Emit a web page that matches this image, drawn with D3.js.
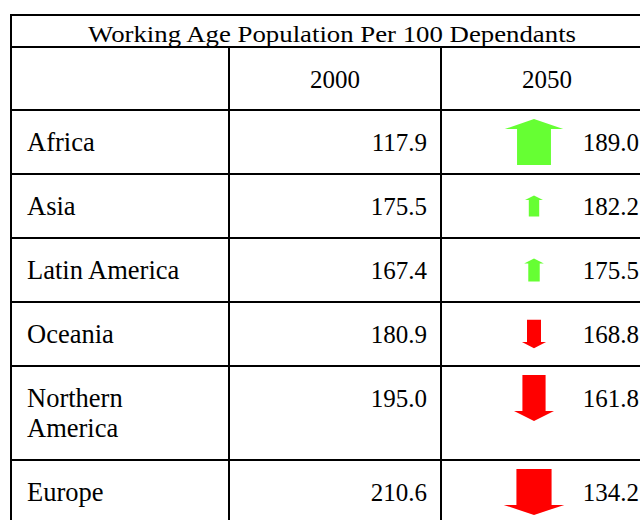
<!DOCTYPE html>
<html>
<head>
<meta charset="utf-8">
<script src="https://cdn.jsdelivr.net/npm/d3@7"></script>
<style>
  body { margin: 0; background: #fff; }
  text { font-family: "Liberation Serif", "Times New Roman", serif; fill: #000; }
</style>
</head>
<body>
<script>
//table data
const title = "Working Age Population Per 100 Dependants";
const years = ["2000", "2050"];
const regions = ["Africa", "Asia", "Latin America", "Oceania", "Northern America", "Europe"];
const values2000 = [117.9, 175.5, 167.4, 180.9, 195.0, 210.6];
const values2050 = [189.0, 182.2, 175.5, 168.8, 161.8, 134.2];

//execute script when window is loaded
window.onload = function () {
    const w = 640, h = 520;

    //layout of the table
    const left = 11, top = 15;
    const colWidths = [218, 212, 212];
    const titleH = 32, headH = 63, rowH = 64, lineH = 30;
    const fontSize = 25, labelSize = 26.5;

    const colX = [left];
    colWidths.forEach(cw => colX.push(colX[colX.length - 1] + cw));
    const right = colX[colX.length - 1];

    var svg = d3.select("body")
        .append("svg")
        .attr("width", w)
        .attr("height", h);

    var lines = svg.append("g").attr("class", "grid");
    var cells = svg.append("g").attr("class", "cells");

    //wrap region names longer than the cell allows
    const measure = svg.append("text").style("font-size", labelSize + "px");
    const wrap = label => {
        measure.text(label);
        if (measure.node().getComputedTextLength() <= 175) return [label];
        const words = label.split(" ");
        return [words.slice(0, -1).join(" "), words[words.length - 1]];
    };
    const rows = regions.map((r, i) => ({
        region: r,
        lines: wrap(r),
        v0: values2000[i],
        v1: values2050[i]
    }));
    measure.remove();

    //row tops
    let y0 = top + titleH + headH;
    rows.forEach(d => {
        d.top = y0;
        d.height = rowH + lineH * (d.lines.length - 1);
        y0 += d.height;
    });
    const bottom = y0;

    //horizontal rules
    const hy = [top, top + titleH, top + titleH + headH].concat(rows.map(d => d.top + d.height));
    lines.selectAll(".hline")
        .data(hy)
        .enter()
        .append("line")
        .attr("class", "hline")
        .attr("x1", left - 1).attr("x2", right + 1)
        .attr("y1", d => d).attr("y2", d => d)
        .style("stroke", "#000").style("stroke-width", 2);

    //vertical rules: outer ones full height, inner ones below the title
    lines.selectAll(".vline")
        .data(colX)
        .enter()
        .append("line")
        .attr("class", "vline")
        .attr("x1", d => d).attr("x2", d => d)
        .attr("y1", (d, i) => (i === 0 || i === colX.length - 1) ? top : top + titleH)
        .attr("y2", bottom)
        .style("stroke", "#000").style("stroke-width", 2);

    //title
    cells.append("text")
        .attr("class", "title")
        .attr("text-anchor", "middle")
        .attr("x", (left + right) / 2)
        .attr("y", top + 27)
        .attr("textLength", 488)
        .attr("lengthAdjust", "spacingAndGlyphs")
        .style("font-size", "24px")
        .text(title);

    //year headers
    cells.selectAll(".year")
        .data(years)
        .enter()
        .append("text")
        .attr("class", "year")
        .attr("text-anchor", "middle")
        .attr("x", (d, i) => (colX[i + 1] + colX[i + 2]) / 2)
        .attr("y", top + titleH + 41)
        .style("font-size", fontSize + "px")
        .text(d => d);

    const format = d3.format(".1f");

    //region labels
    var labels = cells.selectAll(".region")
        .data(rows)
        .enter()
        .append("text")
        .attr("class", "region")
        .attr("y", d => d.top + 41)
        .style("font-size", labelSize + "px");

    labels.selectAll("tspan")
        .data(d => d.lines)
        .enter()
        .append("tspan")
        .attr("x", left + 16)
        .attr("dy", (d, i) => i === 0 ? 0 : lineH)
        .text(d => d);

    //values
    cells.selectAll(".v2000")
        .data(rows)
        .enter()
        .append("text")
        .attr("class", "v2000")
        .attr("text-anchor", "end")
        .attr("x", colX[2] - 14)
        .attr("y", d => d.top + 41)
        .style("font-size", fontSize + "px")
        .text(d => format(d.v0));

    cells.selectAll(".v2050")
        .data(rows)
        .enter()
        .append("text")
        .attr("class", "v2050")
        .attr("text-anchor", "end")
        .attr("x", colX[3] - 14)
        .attr("y", d => d.top + 41)
        .style("font-size", fontSize + "px")
        .text(d => format(d.v1));

    //arrow sizes from the change between years
    const arrowW = d3.scaleSqrt().domain([0, 80]).range([0, 62]);
    const arrowH = d3.scaleSqrt().domain([0, 32]).range([0, 46]).clamp(true);

    const arrowPath = d => {
        const change = d.v1 - d.v0;
        const aw = arrowW(Math.abs(change)), ah = arrowH(Math.abs(change));
        const sw = aw * 0.58, hl = ah * 0.22;
        const cx = colX[2] + 93, cy = d.top + 32;
        const dir = change > 0 ? -1 : 1; //up or down
        const tip = cy + dir * ah / 2, base = cy - dir * ah / 2, neck = tip - dir * hl;
        const p = d3.path();
        p.moveTo(cx, tip);
        p.lineTo(cx + aw / 2, neck);
        p.lineTo(cx + sw / 2, neck);
        p.lineTo(cx + sw / 2, base);
        p.lineTo(cx - sw / 2, base);
        p.lineTo(cx - sw / 2, neck);
        p.lineTo(cx - aw / 2, neck);
        p.closePath();
        return p.toString();
    };

    cells.selectAll(".arrow")
        .data(rows)
        .enter()
        .append("path")
        .attr("class", "arrow")
        .attr("d", arrowPath)
        .style("fill", d => d.v1 > d.v0 ? "#66ff33" : "#ff0000");
};
</script>
</body>
</html>
